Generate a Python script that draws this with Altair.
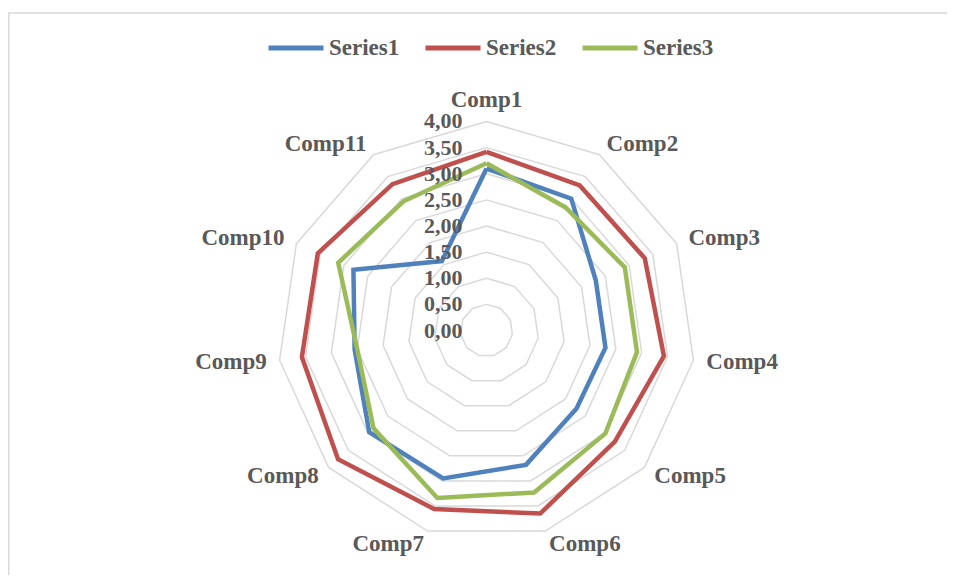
import math
import altair as alt
import pandas as pd

categories = ["Comp1", "Comp2", "Comp3", "Comp4", "Comp5", "Comp6",
              "Comp7", "Comp8", "Comp9", "Comp10", "Comp11"]
series_names = ["Series1", "Series2", "Series3"]
series1 = [3.10, 3.00, 2.30, 2.30, 2.28, 2.68, 2.95, 2.97, 2.55, 2.80, 1.58]
series2 = [3.42, 3.30, 3.33, 3.43, 3.25, 3.65, 3.56, 3.76, 3.57, 3.55, 3.33]
series3 = [3.20, 2.80, 2.91, 2.91, 3.01, 3.23, 3.34, 2.86, 2.50, 3.12, 2.94]
ring_levels = [0.0, 0.5, 1.0, 1.5, 2.0, 2.5, 3.0, 3.5, 4.0]
ring_labels = ["0,00", "0,50", "1,00", "1,50", "2,00", "2,50", "3,00", "3,50", "4,00"]
colors = ["#4f81bd", "#c0504d", "#9bbb59"]

FONT = "Liberation Serif"
TXT = "#595959"
GRID = "#d9d9d9"
N = len(categories)
LABEL_R = 4.25

def ang(i):
    return 2 * math.pi * i / N

# series polygons (closed)
rows = []
for name, vals in zip(series_names, [series1, series2, series3]):
    for k in range(N + 1):
        i = k % N
        v = vals[i]
        rows.append({"series": name, "order": k, "cat": categories[i], "value": v,
                     "x": v * math.sin(ang(i)), "y": v * math.cos(ang(i))})
sdf = pd.DataFrame(rows)

# grid rings
grows = []
for lv in ring_levels[1:]:
    for k in range(N + 1):
        i = k % N
        grows.append({"ring": lv, "order": k,
                      "x": lv * math.sin(ang(i)), "y": lv * math.cos(ang(i))})
gdf = pd.DataFrame(grows)

# ring labels
rdf = pd.DataFrame({"x": [0.0] * len(ring_levels), "y": ring_levels, "label": ring_labels})

# category labels
crows = []
for i, c in enumerate(categories):
    s, co = math.sin(ang(i)), math.cos(ang(i))
    side = "center" if abs(s) < 0.1 else ("left" if s > 0 else "right")
    crows.append({"cat": c, "x": LABEL_R * s, "y": LABEL_R * co, "side": side})
cdf = pd.DataFrame(crows)

W, H = 939, 567
XD = [-9.158, 8.813]
YD = [-4.679, 6.172]
xs = alt.Scale(domain=XD, nice=False, zero=False)
ys = alt.Scale(domain=YD, nice=False, zero=False)

grid = alt.Chart(gdf).mark_line(color=GRID, strokeWidth=1.5).encode(
    x=alt.X("x:Q", scale=xs, axis=None),
    y=alt.Y("y:Q", scale=ys, axis=None),
    detail="ring:N",
    order="order:Q",
)

lines = alt.Chart(sdf).mark_line(strokeWidth=4.5, strokeJoin="miter").encode(
    x=alt.X("x:Q", scale=xs, axis=None),
    y=alt.Y("y:Q", scale=ys, axis=None),
    color=alt.Color(
        "series:N",
        scale=alt.Scale(domain=series_names, range=colors),
        sort=series_names,
        title=None,
        legend=alt.Legend(
            orient="none", legendX=258, legendY=10, direction="horizontal",
            symbolType="stroke", symbolSize=3025, symbolStrokeWidth=5,
            labelFont=FONT, labelFontSize=23, labelFontWeight="bold",
            labelColor=TXT, labelOffset=3, columnPadding=15, padding=0,
            labelLimit=300,
        ),
    ),
    order="order:Q",
)

ring_text = alt.Chart(rdf).mark_text(
    align="right", baseline="middle", dx=-24, font=FONT, fontSize=22,
    fontWeight="bold", color=TXT,
).encode(x=alt.X("x:Q", scale=xs), y=alt.Y("y:Q", scale=ys), text="label:N")

def cat_layer(side, baseline, dy=0):
    return alt.Chart(cdf[cdf["side"] == side]).mark_text(
        align=side, baseline=baseline, dy=dy, font=FONT, fontSize=23,
        fontWeight="bold", color=TXT,
    ).encode(x=alt.X("x:Q", scale=xs), y=alt.Y("y:Q", scale=ys), text="cat:N")

cat_c = cat_layer("center", "bottom", 4)
cat_l = cat_layer("left", "middle")
cat_r = cat_layer("right", "middle")

frame = alt.Data(values=[{"a": 1}])
top_rule = alt.Chart(frame).mark_rule(color=GRID, strokeWidth=1.5).encode(
    x=alt.value(0), x2=alt.value(W), y=alt.value(5))
left_rule = alt.Chart(frame).mark_rule(color=GRID, strokeWidth=1.5).encode(
    x=alt.value(0.75), y=alt.value(5), y2=alt.value(H))

chart = alt.layer(
    top_rule, left_rule, grid, lines, ring_text, cat_c, cat_l, cat_r
).properties(
    width=W, height=H, padding=0,
    autosize=alt.AutoSizeParams(type="none"),
).configure_view(stroke=None)

chart.save("out.html", embed_options={"renderer": "svg", "actions": False})
